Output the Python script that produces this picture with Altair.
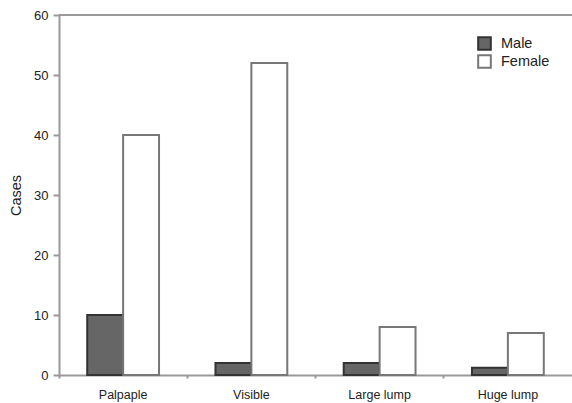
import altair as alt
import pandas as pd

categories = ["Palpaple", "Visible", "Large lump", "Huge lump"]
male = [10, 2, 2, 1.2]
female = [40, 52, 8, 7]
groups = ["Male", "Female"]

rows = []
for c, m, f in zip(categories, male, female):
    rows.append({"type": c, "sex": "Male", "cases": m})
    rows.append({"type": c, "sex": "Female", "cases": f})
df = pd.DataFrame(rows)

font = "Liberation Sans"

legend_kw = dict(orient="none", legendX=418, legendY=21,
                 symbolType="square", symbolSize=160, symbolStrokeWidth=2,
                 labelFontSize=14.5, labelFont=font, labelColor="#222",
                 rowPadding=-7, labelOffset=9)

bars = alt.Chart(df).mark_bar(strokeWidth=2).encode(
    x=alt.X("type:N", sort=categories, title=None,
            scale=alt.Scale(paddingInner=0.44, paddingOuter=0.22),
            axis=alt.Axis(labelAngle=0, bandPosition=-0.39, tickSize=3, labelPadding=10,
                          labelFontSize=12.5, labelColor="#222", labelFont=font,
                          domainColor="#999", domainWidth=2, tickColor="#999", tickWidth=2)),
    xOffset=alt.XOffset("sex:N", sort=groups),
    y=alt.Y("cases:Q", title="Cases",
            scale=alt.Scale(domain=[0, 60], nice=False),
            axis=alt.Axis(values=[0, 10, 20, 30, 40, 50, 60], grid=False, tickSize=6,
                          labelPadding=5, labelFontSize=13, labelColor="#222", labelFont=font,
                          titleFont=font, titleFontSize=14.5, titleFontWeight="normal",
                          titleColor="#222", titlePadding=10,
                          domainColor="#999", domainWidth=2, tickColor="#999", tickWidth=2)),
    fill=alt.Fill("sex:N", sort=groups, title=None,
                  scale=alt.Scale(domain=groups, range=["#666666", "#ffffff"]),
                  legend=alt.Legend(**legend_kw)),
    stroke=alt.Stroke("sex:N", sort=groups, title=None,
                      scale=alt.Scale(domain=groups, range=["#333333", "#777777"]),
                      legend=alt.Legend(**legend_kw)),
)

top = alt.Chart(pd.DataFrame({"v": [60]})).mark_rule(color="#999", strokeWidth=2).encode(
    y="v:Q"
)

chart = alt.layer(bars, top).properties(
    width=513, height=360,
    autosize=alt.AutoSizeParams(type="none"),
    padding={"left": 59, "top": 15, "right": 0, "bottom": 28},
).configure_view(stroke=None).configure(background="white")

chart.save("out.html", embed_options={"renderer": "svg", "actions": False})
